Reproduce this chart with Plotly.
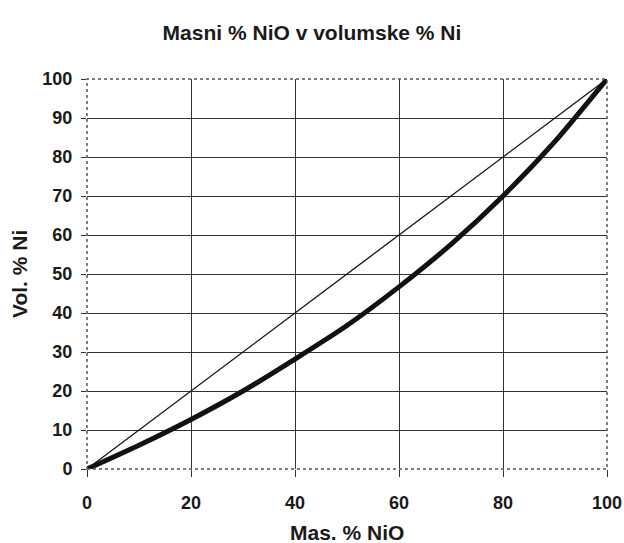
import plotly.graph_objects as go

mas_nio = [0, 10, 20, 30, 40, 50, 60, 70, 80, 90, 100]
vol_ni = [0, 6.1, 12.7, 20.0, 28.2, 36.8, 46.7, 57.6, 70.0, 84.0, 100]
ref_x = [0, 100]
ref_y = [0, 100]

x_ticks = [0, 20, 40, 60, 80, 100]
y_ticks = [0, 10, 20, 30, 40, 50, 60, 70, 80, 90, 100]

FONT = "Liberation Sans, Arial, sans-serif"
W, H = 624, 543

fig = go.Figure()
fig.add_trace(go.Scatter(x=ref_x, y=ref_y, mode="lines",
                         line=dict(color="#111111", width=1.3), showlegend=False))
fig.add_trace(go.Scatter(x=mas_nio, y=vol_ni, mode="lines",
                         line=dict(color="#111111", width=5, shape="spline", smoothing=0.6),
                         showlegend=False))

# plot area spans x 87..607, y 79..469 of the page
fig.update_layout(
    width=W, height=H,
    margin=dict(l=87, r=17, t=79, b=74),
    paper_bgcolor="white", plot_bgcolor="white",
    font=dict(family=FONT, color="#1a1a1a"),
    title=dict(text="<b>Masni % NiO v volumske % Ni</b>", x=0.5, xanchor="center",
               y=1 - 33 / H, yanchor="middle", font=dict(size=21, family=FONT)),
    xaxis=dict(range=[0, 100], tickvals=x_ticks, ticktext=[f"<b>{v}</b>" for v in x_ticks],
               showgrid=True, gridcolor="#333333", gridwidth=1,
               zeroline=False, showline=False, automargin=False,
               ticks="outside", ticklen=7, tickcolor="#333333",
               ticklabelstandoff=10,
               tickfont=dict(size=18, family=FONT)),
    yaxis=dict(range=[0, 100], tickvals=y_ticks, ticktext=[f"<b>{v}</b>" for v in y_ticks],
               showgrid=True, gridcolor="#333333", gridwidth=1,
               zeroline=False, showline=False, automargin=False,
               ticks="outside", ticklen=5, tickcolor="#333333",
               ticklabelstandoff=5,
               tickfont=dict(size=18, family=FONT)),
    shapes=[dict(type="rect", xref="paper", yref="paper", x0=0, y0=0, x1=1, y1=1,
                 line=dict(color="#555555", width=1.5, dash="dot"), layer="above")],
    annotations=[
        dict(text="<b>Mas. % NiO</b>", xref="paper", yref="paper", x=0.5, y=0,
             xanchor="center", yanchor="middle", yshift=-63, showarrow=False,
             font=dict(size=21, family=FONT)),
        dict(text="<b>Vol. % Ni</b>", xref="paper", yref="paper", x=0, y=0.5,
             xanchor="center", yanchor="middle", xshift=-68, textangle=-90, showarrow=False,
             font=dict(size=21, family=FONT)),
    ],
)

fig.write_html(
    "out.html",
    config={"displayModeBar": False},
    post_script="document.body.style.margin='0';document.body.style.overflow='hidden';",
)
